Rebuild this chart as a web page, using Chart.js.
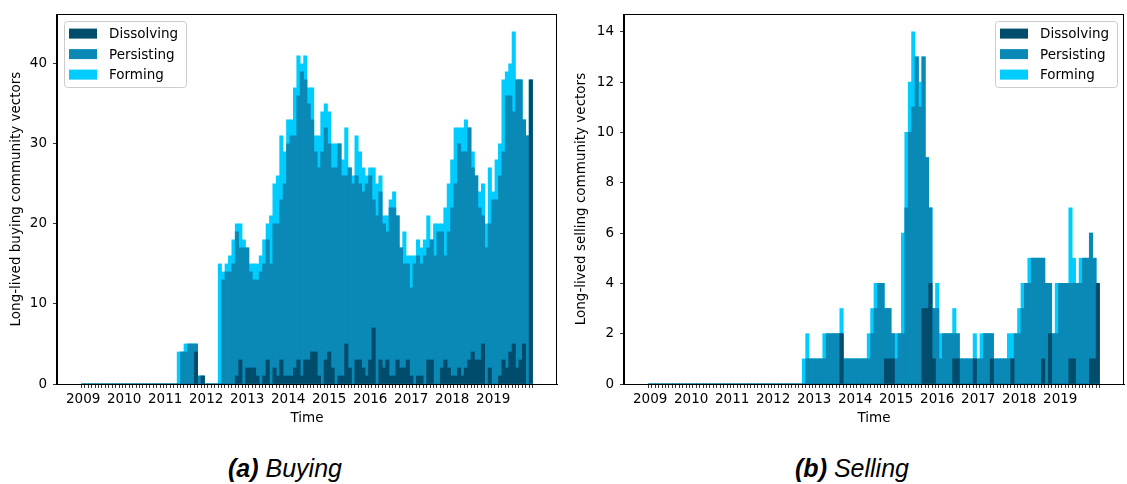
<!DOCTYPE html>
<html>
<head>
<meta charset="utf-8">
<script src="https://cdn.jsdelivr.net/npm/chart.js@4.4.0/dist/chart.umd.min.js"></script>
<style>
  body { margin: 0; background: #fff; width: 1127px; height: 484px; position: relative; overflow: hidden; }
  .panel { position: absolute; top: 0; height: 440px; }
  #buyBox { left: 0; width: 570px; }
  #sellBox { left: 565px; width: 562px; }
  .caption { position: absolute; top: 453px; line-height: 30px; font-family: "Liberation Sans", Arial, sans-serif;
             font-style: italic; font-size: 25px; transform: translateX(-50%); white-space: nowrap; color: #000; }
  .caption b { font-weight: bold; }
</style>
</head>
<body>
<div class="panel" id="buyBox"><canvas id="buying"></canvas></div>
<div class="panel" id="sellBox"><canvas id="selling"></canvas></div>
<div class="caption" style="left:285px"><b>(a)</b> Buying</div>
<div class="caption" style="left:852px"><b>(b)</b> Selling</div>
<script>
// months Jan 2009 .. Dec 2019
const years = ["2009", "2010", "2011", "2012", "2013", "2014", "2015", "2016", "2017", "2018", "2019"];
const months = [];
years.forEach(y => { for (let k = 1; k <= 12; k++) months.push(y + "-" + String(k).padStart(2, "0")); });
const monthIdx = months.map((m, i) => i);

// BUYING (one line per year)
const buyDissolving = [
  0,0,0,0, 0,0,0,0, 0,0,0,0,
  0,0,0,0, 0,0,0,0, 0,0,0,0,
  0,0,0,0, 0,0,0,0, 0,4,0,1,
  0,0,0,0, 0,0,0,0, 0,1,3,0,
  2,2,2,1, 0,1,3,0, 2,1,3,1,
  1,1,2,3, 1,3,3,4, 4,1,0,3,
  4,2,0,1, 1,5,2,0, 3,3,2,1,
  3,7,0,3, 2,3,1,1, 3,2,2,3,
  1,0,1,1, 0,3,3,0, 0,2,3,2,
  1,1,2,1, 2,3,4,3, 3,5,0,2,
  0,0,1,3, 2,4,5,2, 3,5,0,38
];
const buyPersisting = [
  0,0,0,0, 0,0,0,0, 0,0,0,0,
  0,0,0,0, 0,0,0,0, 0,0,0,0,
  0,0,0,0, 0,4,4,5, 5,5,1,1,
  0,0,0,0, 0,13,14,14, 15,19,17,17,
  17,14,13,13, 14,15,18,15, 20,20,23,25,
  30,31,31,36, 39,38,35,33, 29,27,29,32,
  30,27,27,30, 26,26,27,25, 26,25,24,25,
  26,23,21,24, 20,19,22,22, 21,17,15,15,
  12,15,16,15, 16,17,18,16, 19,19,16,19,
  22,25,30,29, 29,32,27,26, 22,21,17,20,
  23,23,26,29, 36,36,34,38, 38,33,31,0
];
const buyForming = [
  0,0,0,0, 0,0,0,0, 0,0,0,0,
  0,0,0,0, 0,0,0,0, 0,0,0,0,
  0,0,0,0, 4,4,5,5, 5,5,1,1,
  0,0,0,0, 15,14,15,16, 18,20,20,18,
  17,15,15,15, 16,18,20,21, 25,26,31,29,
  33,33,37,41, 40,41,37,37, 31,31,34,35,
  34,30,30,30, 28,32,27,26, 31,29,27,26,
  27,27,25,26, 21,21,23,24, 21,17,19,16,
  16,16,18,17, 18,21,18,20, 20,20,22,25,
  28,32,32,32, 33,32,29,26, 24,25,20,27,
  24,28,30,38, 39,40,44,38, 38,33,31,38
];

// SELLING
const sellDissolving = [
  0,0,0,0, 0,0,0,0, 0,0,0,0,
  0,0,0,0, 0,0,0,0, 0,0,0,0,
  0,0,0,0, 0,0,0,0, 0,0,0,0,
  0,0,0,0, 0,0,0,0, 0,0,0,0,
  0,0,0,0, 0,0,0,0, 2,0,0,0,
  0,0,0,0, 0,0,0,0, 0,1,1,1,
  0,0,0,0, 0,0,0,0, 3,3,4,1,
  0,0,0,0, 0,1,1,0, 0,0,0,1,
  0,0,0,0, 1,0,0,0, 0,0,1,0,
  0,0,0,0, 0,0,0,1, 0,2,0,0,
  0,0,0,1, 1,0,0,0, 0,1,1,4
];
const sellPersisting = [
  0,0,0,0, 0,0,0,0, 0,0,0,0,
  0,0,0,0, 0,0,0,0, 0,0,0,0,
  0,0,0,0, 0,0,0,0, 0,0,0,0,
  0,0,0,0, 0,0,0,0, 0,0,1,1,
  1,1,1,1, 2,2,2,2, 2,1,1,1,
  1,1,1,1, 1,2,3,4, 4,3,3,2,
  1,2,2,7, 10,11,13,11, 13,9,7,3,
  3,1,2,2, 2,2,2,1, 1,1,1,1,
  1,1,2,2, 2,1,1,1, 1,1,1,2,
  2,3,4,4, 5,5,5,5, 4,4,2,2,
  4,4,4,4, 4,4,4,5, 5,6,5,0
];
const sellForming = [
  0,0,0,0, 0,0,0,0, 0,0,0,0,
  0,0,0,0, 0,0,0,0, 0,0,0,0,
  0,0,0,0, 0,0,0,0, 0,0,0,0,
  0,0,0,0, 0,0,0,0, 0,1,2,1,
  1,1,1,2, 2,2,2,2, 3,1,1,1,
  1,1,1,1, 2,3,4,4, 4,3,3,2,
  2,2,6,10, 12,14,13,12, 13,9,7,3,
  4,2,2,2, 2,3,2,1, 1,1,1,2,
  1,2,2,2, 2,1,1,1, 1,2,2,2,
  3,4,4,5, 5,5,5,5, 4,4,2,4,
  4,4,4,7, 5,4,5,5, 5,6,5,4
];

const buyYTicks = [0, 10, 20, 30, 40];
const sellYTicks = [0, 2, 4, 6, 8, 10, 12, 14];

const colors = { Dissolving: "#004c6d", Persisting: "#0a89b6", Forming: "#00ccff" };
const FONT = "'DejaVu Sans', sans-serif";

// matplotlib-like box round the axes
const frame = {
  id: "frame",
  afterDatasetsDraw(chart) {
    const { ctx, chartArea: a } = chart;
    ctx.save();
    ctx.strokeStyle = "#000";
    ctx.lineWidth = 1;
    ctx.strokeRect(Math.round(a.left) - 0.5, Math.round(a.top) + 0.5, Math.round(a.right - a.left), Math.round(a.bottom - a.top));
    ctx.restore();
  }
};

// legend inside the plot area
const boxLegend = {
  id: "boxLegend",
  afterDraw(chart, args, opts) {
    const { ctx, chartArea: a } = chart;
    const w = 122, h = 66;
    const x0 = opts.side === "right" ? a.right - 7 - w : a.left + 7;
    const y0 = a.top + 7;
    ctx.save();
    ctx.fillStyle = "rgba(255,255,255,0.8)";
    ctx.strokeStyle = "#cccccc";
    ctx.lineWidth = 1;
    ctx.beginPath();
    ctx.roundRect(Math.round(x0) + 0.5, Math.round(y0) + 0.5, w, h, 3);
    ctx.fill();
    ctx.stroke();
    ctx.font = "13.5px " + FONT;
    ctx.textBaseline = "middle";
    chart.data.datasets.forEach((ds, i) => {
      const cy = y0 + 12.5 + i * 20.5;
      ctx.fillStyle = ds.backgroundColor;
      ctx.fillRect(x0 + 5, cy - 5, 28, 10);
      ctx.fillStyle = "#000";
      ctx.fillText(ds.label, x0 + 45, cy + 1);
    });
    ctx.restore();
  }
};

function makeChart(id, series, yMax, yTicks, yTitle, side, leftW, rightPad) {
  return new Chart(document.getElementById(id), {
    type: "bar",
    data: {
      labels: monthIdx,
      datasets: ["Dissolving", "Persisting", "Forming"].map((name, i) => ({
        label: name,
        data: series[i],
        backgroundColor: colors[name],
        borderWidth: 0,
        grouped: false,
        barPercentage: 1,
        categoryPercentage: 1
      }))
    },
    options: {
      responsive: true,
      maintainAspectRatio: false,
      animation: false,
      layout: { padding: { top: 11, right: rightPad, left: 0, bottom: 0 } },
      plugins: { legend: { display: false }, tooltip: { enabled: false }, boxLegend: { side: side } },
      scales: {
        x: {
          type: "linear",
          min: -7.1,
          max: 138.1,
          afterBuildTicks: s => { s.ticks = monthIdx.map(v => ({ value: v })); },
          afterFit: s => { s.height = 56; },
          grid: { drawOnChartArea: false, drawTicks: true, tickLength: 4, tickColor: "#000", tickWidth: 0.8 },
          border: { display: true, color: "#000" },
          ticks: {
            autoSkip: false, maxRotation: 0, padding: 3, color: "#000",
            font: { family: FONT, size: 13.5 },
            callback: v => (v % 12 === 0 ? years[v / 12] : "")
          },
          title: { display: true, text: "Time", color: "#000", font: { family: FONT, size: 13.5 }, padding: { top: 0, bottom: 13 } }
        },
        y: {
          min: 0,
          max: yMax,
          afterBuildTicks: s => { s.ticks = yTicks.map(v => ({ value: v })); },
          afterFit: s => { s.width = leftW; },
          grid: { drawOnChartArea: false, drawTicks: true, tickLength: 4, tickColor: "#000", tickWidth: 0.8 },
          border: { display: true, color: "#000" },
          ticks: { padding: 6, color: "#000", font: { family: FONT, size: 13.5 } },
          title: { display: true, text: yTitle, color: "#000", font: { family: FONT, size: 13.5 }, padding: { top: 8, bottom: 0 } }
        }
      }
    },
    plugins: [frame, boxLegend]
  });
}

makeChart("buying", [buyDissolving, buyPersisting, buyForming], 46.2, buyYTicks,
  "Long-lived buying community vectors", "left", 57, 13);
makeChart("selling", [sellDissolving, sellPersisting, sellForming], 14.7, sellYTicks,
  "Long-lived selling community vectors", "right", 59, 3);
</script>
</body>
</html>
